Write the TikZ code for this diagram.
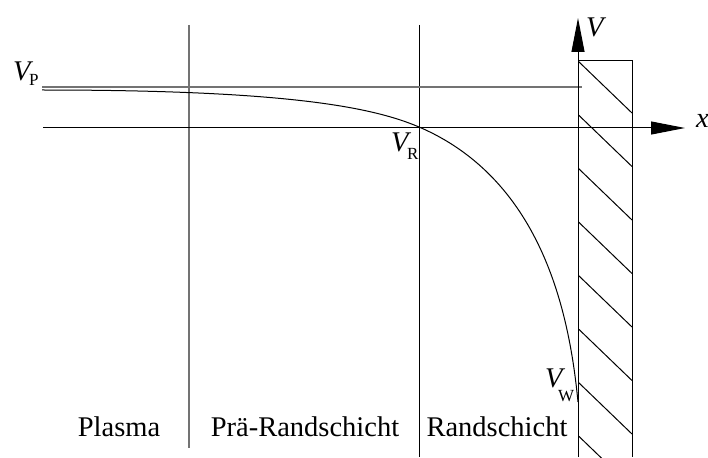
\documentclass[tikz,border=0pt]{standalone}
\usepackage{fontspec}
\setmainfont{Liberation Serif}
\usetikzlibrary{arrows.meta}
\begin{document}
\begin{tikzpicture}[x=1pt,y=-1pt,
  blk/.style={line width=1pt, black},
  gry/.style={line width=1.5pt, black!55},
  axis/.style={blk, -{Triangle[length=34pt,width=13pt]}},
  lbl/.style={font=\fontsize{28.5}{34}\selectfont, inner sep=0pt},
  sub/.style={font=\fontsize{17}{20}\selectfont, inner sep=0pt, anchor=base west}]
\useasboundingbox (0,0) rectangle (708,457);
% coordinates
\coordinate (g1t) at (189,25);
\coordinate (g1b) at (189,448);
\coordinate (g2t) at (419,25);
\coordinate (g2b) at (419,457);
\coordinate (vpl) at (42,87);
\coordinate (vpr) at (582,87);
\coordinate (xl) at (43,128);
\coordinate (xr) at (685,128);
\coordinate (yb) at (578,457);
\coordinate (yt) at (578,18);
\coordinate (wtl) at (578,61);
\coordinate (wtr) at (632,61);
\coordinate (wbr) at (632,457);
\coordinate (c0) at (42,90);
\coordinate (cR) at (419,127);
\coordinate (cW) at (578,402);
% region separators
\draw[gry] (g1t) -- (g1b);
\draw[blk] (g2t) -- (g2b);
% V_P level
\draw[gry] (vpl) -- (vpr);
% axes
\draw[axis] (xl) -- (xr);
\draw[axis] (yb) -- (yt);
% wall
\draw[blk] (wtl) -- (wtr) -- (wbr);
\begin{scope}
\clip (wtl) rectangle (wbr);
\foreach \k in {0,...,7} \draw[blk] (578,61+53.5*\k) -- ++(54,52);
\end{scope}
% potential curve
\draw[blk] (c0) .. controls (280,90) and (370,106) .. (cR)
  .. controls (545,181) and (570,320) .. (cW);
% labels
\node[lbl, anchor=base west] (VP) at (13,81) {\itshape V};
\node[sub] (VPs) at (29,86) {P};
\node[lbl, anchor=base west] (VR) at (391,152) {\itshape V};
\node[sub] (VRs) at (407,160) {R};
\node[lbl, anchor=base west] (VW) at (545,387) {\itshape V};
\node[sub] (VWs) at (558,401) {W};
\node[lbl, anchor=base west] (Vax) at (586,37) {\itshape V};
\node[lbl, anchor=base west] (xax) at (696,128) {\itshape x};
\node[lbl, anchor=base] (plasma) at (119,436) {Plasma};
\node[lbl, anchor=base] (prae) at (305,436) {Prä-Randschicht};
\node[lbl, anchor=base] (rand) at (497,436) {Randschicht};
\end{tikzpicture}
\end{document}
